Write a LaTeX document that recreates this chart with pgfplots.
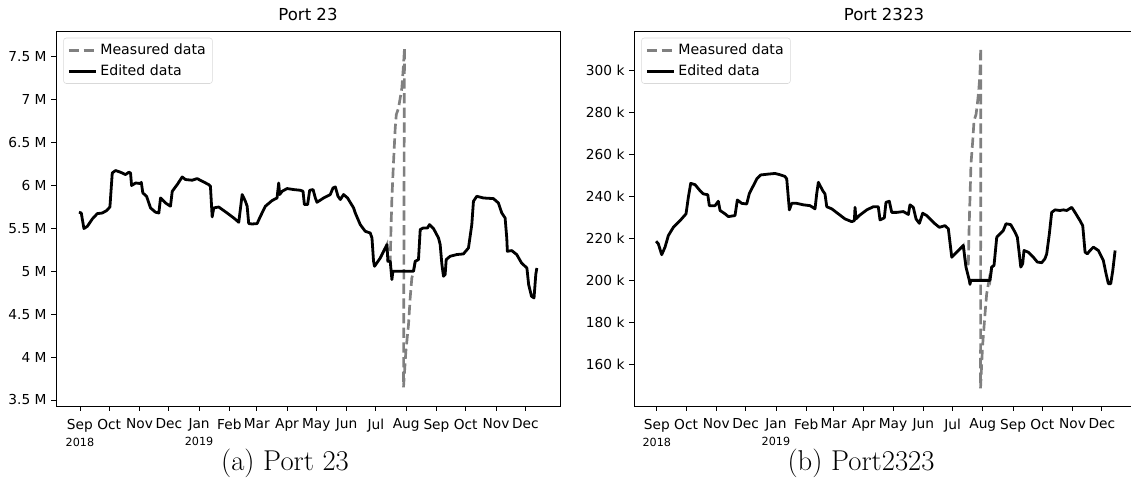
\documentclass[border=0pt]{standalone}
\usepackage{fontspec}
\usepackage{pgfplots}
\pgfplotsset{compat=1.18}
\newfontfamily\djv{DejaVu Sans}
\definecolor{mgray}{HTML}{808080}
\pgfplotsset{
  common/.style={
    scale only axis,
    axis line style={black,line width=0.6pt},
    tick style={black,line width=0.6pt},
    major tick length=3.6pt,
    tick align=outside,
    xtick pos=bottom, ytick pos=left,
    ticklabel style={font=\djv\fontsize{10.3}{11.8}\selectfont},
    xticklabel style={align=center,yshift=-2.5pt},
    xtick={0,30,61,91,122,153,181,212,242,273,303,334,365,395,426,456},
    xticklabels={{Sep\\[1pt]{\fontsize{8.4}{9.5}\selectfont 2018}},Oct,Nov,Dec,{Jan\\[1pt]{\fontsize{8.4}{9.5}\selectfont 2019}},Feb,Mar,Apr,May,Jun,Jul,Aug,Sep,Oct,Nov,Dec},
    legend cell align=left,
    legend style={at={(0.0145,0.982)},anchor=north west,draw=black!15,rounded corners=2pt,
      fill=white,font=\djv\fontsize{10.6}{12.5}\selectfont,inner xsep=3pt,inner ysep=2.5pt,row sep=2pt},
    legend image code/.code={\draw[##1] (0cm,0cm) -- (0.72cm,0cm);},
  },
  meas/.style={mgray,line width=2pt,dash pattern=on 7.7pt off 3.3pt},
  edit/.style={black,line width=2.1pt,line join=round},
}
\begin{document}
\begin{tikzpicture}
\begin{axis}[common,
  at={(42pt,65.25pt)},anchor=south west,
  width=378pt,height=281.25pt,
  xmin=-24.5,xmax=491.5,ymin=3.43,ymax=7.80,
  ytick={3.5,4,4.5,5,5.5,6,6.5,7,7.5},
  yticklabels={3.5 M,4 M,4.5 M,5 M,5.5 M,6 M,6.5 M,7 M,7.5 M}]
\addplot[meas] coordinates {(307.5,5.155)(314.3,5.311)(315.3,5.117)(317.7,5.117)(318.4,5.466)(319.4,5.854)(321.1,6.282)(322.8,6.670)(323.9,6.826)(326.2,6.903)(327.9,7.020)(329.6,7.136)(331.3,7.409)(332.3,7.603)(332.0,6.748)(331.7,5.233)(331.3,3.648)(333.7,4.068)(336.4,4.379)(338.1,4.689)(339.8,4.922)(341.5,5.0)(343.3,5.117)(346.6,5.136)};
\addlegendentry{Measured data}
\addplot[edit] coordinates {(-1.0,5.688)(1.4,5.679)(2.5,5.603)(4.1,5.498)(7.6,5.524)(12.7,5.610)(17.8,5.672)(22.9,5.679)(27.3,5.707)(30.7,5.749)(33.1,6.146)(36.5,6.174)(41.6,6.154)(46.7,6.127)(50.1,6.154)(51.8,6.146)(52.9,5.999)(57.0,6.029)(62.1,6.022)(62.8,6.037)(64.4,5.913)(68.2,5.874)(72.3,5.738)(77.4,5.688)(80.8,5.679)(82.5,5.854)(87.6,5.796)(92.7,5.758)(94.5,5.932)(99.6,6.010)(104.7,6.099)(108.1,6.069)(114.9,6.061)(120.0,6.080)(125.2,6.049)(131.9,6.010)(133.6,5.991)(135.4,5.633)(137.0,5.738)(142.1,5.749)(150.7,5.679)(157.5,5.621)(162.6,5.571)(166.1,5.894)(169.4,5.816)(171.2,5.758)(172.8,5.556)(176.3,5.551)(181.4,5.556)(184.8,5.641)(189.9,5.758)(196.7,5.824)(201.8,5.854)(203.5,6.029)(204.5,5.894)(207.0,5.932)(212.1,5.964)(218.8,5.952)(225.7,5.944)(228.4,5.932)(229.8,5.777)(233.1,5.777)(235.2,5.944)(238.7,5.952)(241.0,5.854)(242.7,5.804)(249.5,5.854)(256.3,5.894)(259.1,5.971)(261.5,5.983)(264.2,5.874)(266.6,5.836)(269.9,5.894)(274.0,5.854)(280.2,5.738)(281.9,5.679)(287.0,5.544)(292.1,5.466)(297.2,5.446)(299.0,5.388)(300.6,5.117)(301.6,5.058)(307.5,5.155)(314.3,5.311)(315.3,5.117)(317.7,5.117)(319.4,4.903)(320.4,5.0)(341.5,5.0)(343.3,5.117)(346.6,5.136)(348.4,5.486)(351.7,5.505)(355.8,5.505)(357.9,5.544)(362.0,5.498)(367.1,5.388)(368.8,5.311)(370.6,5.078)(372.2,4.942)(373.9,4.962)(375.0,5.136)(379.0,5.175)(385.9,5.195)(392.6,5.202)(397.8,5.272)(401.2,5.544)(402.9,5.816)(406.3,5.874)(413.1,5.854)(423.3,5.847)(428.4,5.796)(431.9,5.679)(435.3,5.621)(437.0,5.388)(437.6,5.233)(442.1,5.241)(447.2,5.195)(452.1,5.097)(457.6,5.038)(459.4,4.845)(462.3,4.709)(464.9,4.689)(466.7,4.962)(467.8,5.038)};
\addlegendentry{Edited data}
\end{axis}
\begin{axis}[common,
  at={(475.5pt,65.25pt)},anchor=south west,
  width=376.5pt,height=281.25pt,
  xmin=-23.4,xmax=491.0,ymin=140.3,ymax=318.5,
  ytick={160,180,200,220,240,260,280,300},
  yticklabels={160 k,180 k,200 k,220 k,240 k,260 k,280 k,300 k}]
\addplot[meas] coordinates {(310.7,215.0)(314.0,216.6)(316.8,206.3)(319.2,207.9)(319.9,223.7)(320.9,239.5)(321.9,255.3)(323.7,266.3)(325.0,275.8)(327.1,278.9)(328.4,283.7)(329.8,290.0)(331.1,297.9)(331.9,310.5)(331.9,261.6)(331.7,148.7)(333.7,168.4)(336.3,184.2)(338.0,193.7)(340.7,200.8)(341.4,200)(343.1,206.3)(345.5,207.1)};
\addlegendentry{Measured data}
\addplot[edit] coordinates {(-0.8,218.6)(1.5,217.4)(5.0,212.2)(8.4,215.8)(11.8,221.3)(16.9,225.2)(23.8,228.4)(29.9,231.6)(32.3,239.5)(34.7,246.1)(39.1,245.5)(44.3,242.6)(47.6,241.1)(52.2,240.7)(53.8,235.5)(59.6,235.5)(63.0,237.6)(64.8,233.2)(69.9,231.6)(73.3,230.3)(80.1,230.8)(82.5,238.2)(87.0,236.6)(92.1,236.3)(94.8,241.3)(98.9,245.0)(102.4,248.2)(106.5,250.1)(114.2,250.5)(121.1,250.8)(126.2,250.2)(131.3,249.4)(133.1,248.2)(135.8,233.5)(138.2,236.6)(143.3,236.6)(150.1,235.9)(157.0,235.5)(162.1,234.0)(163.8,241.1)(165.5,246.6)(170.0,242.6)(172.3,241.1)(174.1,235.0)(179.2,234.0)(186.0,231.6)(192.8,229.2)(199.7,227.9)(202.4,228.4)(203.1,234.7)(204.1,229.2)(208.2,231.1)(215.1,233.5)(221.8,235.0)(226.9,235.0)(228.7,228.7)(233.1,229.7)(234.8,237.1)(238.2,237.6)(240.7,232.3)(245.8,232.3)(252.6,232.7)(257.7,231.3)(259.4,235.9)(262.8,234.7)(265.6,229.2)(269.0,227.1)(272.4,231.9)(276.5,230.8)(281.7,228.4)(285.0,226.9)(289.5,225.2)(295.3,226.0)(298.7,224.5)(302.2,211.0)(305.5,212.6)(310.7,215.0)(314.0,216.6)(316.8,206.3)(320.2,200)(320.9,198.1)(321.6,200)(341.4,200)(343.1,206.3)(345.5,207.1)(348.3,220.5)(351.6,222.1)(355.0,223.7)(357.8,226.9)(362.6,226.5)(367.0,222.9)(369.4,220.5)(371.4,212.6)(372.9,206.3)(374.9,207.9)(376.2,214.2)(380.6,213.4)(385.8,211.0)(389.9,208.7)(394.4,208.4)(397.7,210.3)(399.5,212.6)(402.2,222.1)(404.6,232.3)(408.0,233.5)(413.1,233.2)(416.5,233.5)(420.0,233.2)(425.1,234.7)(428.5,232.3)(433.6,228.4)(436.4,226.0)(438.8,213.4)(441.1,212.6)(443.9,214.2)(447.3,215.8)(452.4,214.2)(457.5,209.5)(460.3,203.2)(462.7,198.4)(465.1,198.4)(467.2,204.7)(469.6,214.2)};
\addlegendentry{Edited data}
\end{axis}
\node[font=\djv\fontsize{12.4}{14}\selectfont,anchor=base] at (231pt,354pt) {Port 23};
\node[font=\djv\fontsize{12.4}{14}\selectfont,anchor=base] at (663pt,354pt) {Port 2323};
\node[font=\fontsize{21.5}{25}\selectfont] at (213.75pt,22.5pt) {(a) Port 23};
\node[font=\fontsize{21.5}{25}\selectfont] at (645.75pt,22.5pt) {(b) Port2323};
\pgfresetboundingbox
\path[use as bounding box] (0,0) rectangle (848.25pt,369.75pt);
\end{tikzpicture}
\end{document}
